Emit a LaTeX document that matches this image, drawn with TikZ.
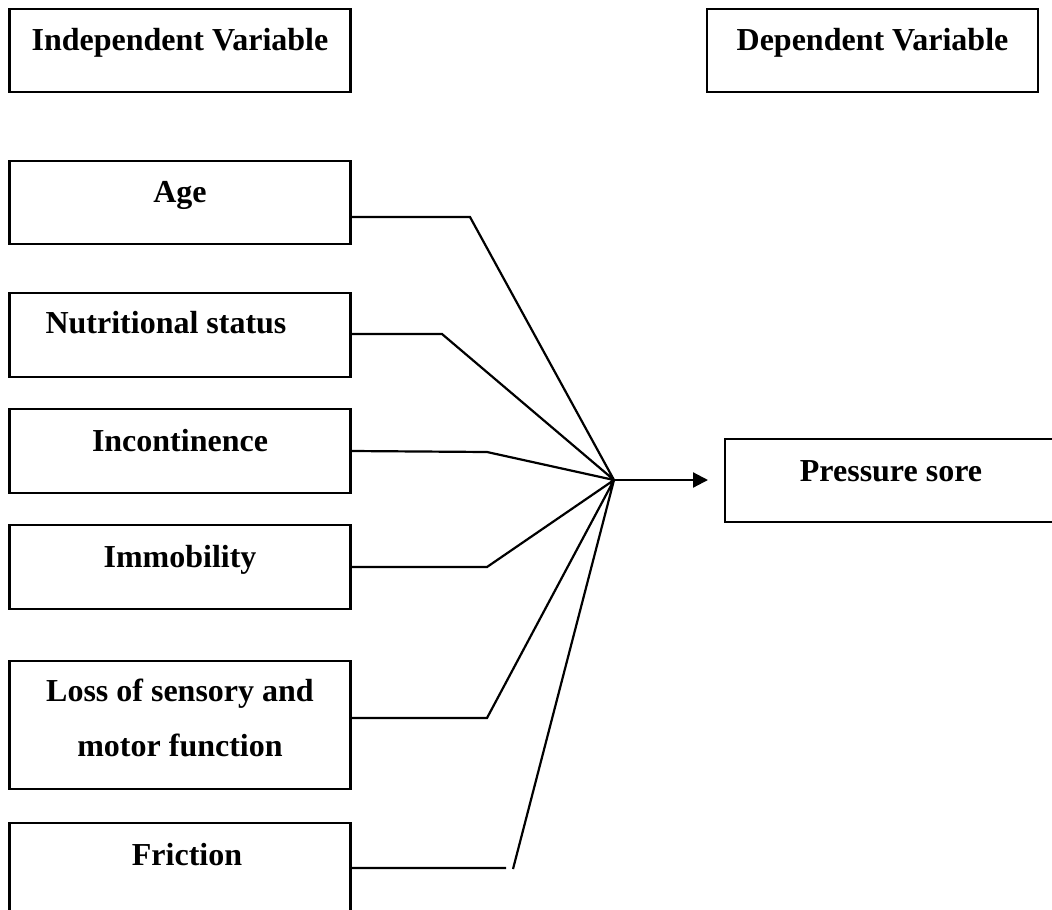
\documentclass[tikz,border=0pt]{standalone}
\usepackage{fontspec}
\setmainfont{Liberation Serif}
\usetikzlibrary{arrows.meta}

\tikzset{
	varbox/.style={draw, line width=2.2pt, inner sep=0pt, minimum width=341pt, text height=42pt, text depth=42pt, align=center, font=\fontsize{32}{55}\selectfont\bfseries},
	link/.style={line width=2.2pt}
}

\begin{document}
\begin{tikzpicture}[x=1pt, y=-1pt]
	\useasboundingbox (0,0) rectangle (1052,910);
	\node[varbox, text height=41pt] (indep) at (180,50.5) {Independent Variable};
	\node[varbox, minimum width=331pt, text height=41pt] (dep) at (872.5,50.5) {Dependent Variable};

	\node[varbox, text height=41pt] (age) at (180,202.5) {Age};
	\node[varbox, text height=40pt, text depth=44pt] (nutri) at (180,335) {Nutritional status\hspace*{28pt}};
	\node[varbox] (incont) at (180,451) {Incontinence};
	\node[varbox] (immob) at (180,567) {Immobility};
	\node[varbox, text height=95pt, text depth=33pt] (loss) at (180,725) {Loss of sensory and\\motor function};
	\node[varbox, text depth=60pt] (frict) at (180,874) {\hspace*{14pt}Friction};

	\node[varbox, minimum width=332pt, text depth=41pt] (sore) at (891,480.5) {Pressure sore};

	\coordinate (hub) at (614,480);
	\coordinate (agebend) at (470,217);
	\coordinate (nutribend) at (442,334);
	\coordinate (incontbend) at (487,452);
	\coordinate (immobbend) at (487,567);
	\coordinate (lossbend) at (487,718);
	\coordinate (frictend) at (506,868);
	\coordinate (frictgap) at (513,869);
	\coordinate (arrtip) at (708,480);

	\draw[link]
		(age.east |- agebend) -- (agebend) -- (hub)
		(nutri.east |- nutribend) -- (nutribend) -- (hub)
		(incont.east |- 0,451) -- (incontbend) -- (hub)
		(immob.east |- immobbend) -- (immobbend) -- (hub)
		(loss.east |- lossbend) -- (lossbend) -- (hub)
		(frict.east |- frictend) -- (frictend)
		(frictgap) -- (hub)
		;
	\draw[link, -{Triangle[length=15pt, width=15pt]}] (hub) -- (arrtip);
\end{tikzpicture}
\end{document}
